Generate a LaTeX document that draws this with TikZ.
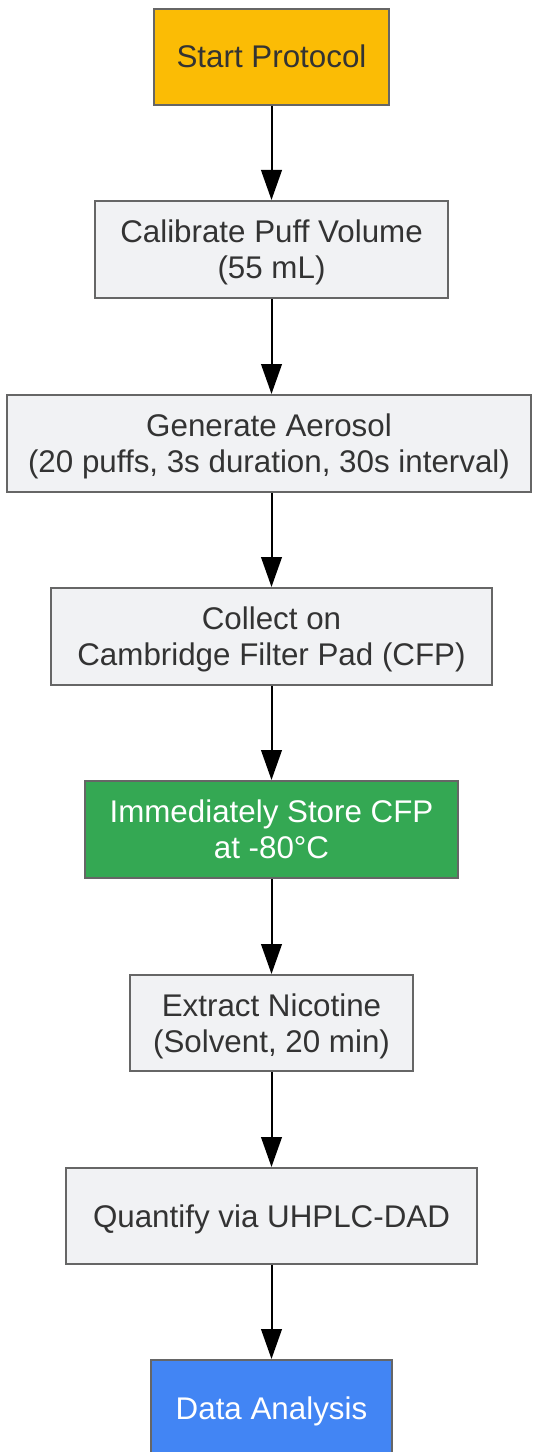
\documentclass[tikz,border=0pt]{standalone}
\usepackage{fontspec}
\setmainfont{Liberation Sans}
\usetikzlibrary{arrows.meta}
\definecolor{txt}{HTML}{333333}
\definecolor{bord}{HTML}{666666}
\definecolor{boxgray}{HTML}{F1F2F4}
\definecolor{startc}{HTML}{FBBC05}
\definecolor{greenc}{HTML}{34A853}
\definecolor{bluec}{HTML}{4285F4}
\newcommand\ls{\rule[-5.25pt]{0pt}{27pt}}
\begin{document}
\begin{tikzpicture}[x=0.75pt,y=-0.75pt,
  stepbox/.style={draw=bord, line width=1.5pt, fill=boxgray, text=txt, align=center,
    inner sep=0pt, font=\fontsize{23.5}{27}\selectfont},
  flow/.style={line width=1.5pt, -{Triangle[length=22.5pt,width=15.5pt]}}]
\useasboundingbox (0,0) rectangle (532,1452);
\node[stepbox, fill=startc, minimum width=176.25pt, minimum height=72pt] (s) at (271.5,57) {\ls Start Protocol};
\node[stepbox, minimum width=264.75pt, minimum height=72.75pt] (c) at (271.5,249.5) {\ls Calibrate Puff Volume\\\ls(55 mL)};
\node[stepbox, minimum width=393pt, minimum height=72.75pt] (g) at (269,443.5) {\ls Generate Aerosol\\\ls(20 puffs, 3s duration, 30s interval)};
\node[stepbox, minimum width=330.75pt, minimum height=72.75pt] (col) at (271.5,636.5) {\ls Collect on\\\ls Cambridge Filter Pad (CFP)};
\node[stepbox, fill=greenc, text=white, minimum width=279.75pt, minimum height=72.75pt] (st) at (271.5,829.5) {\ls Immediately Store CFP\\\ls at -80°C};
\node[stepbox, minimum width=212.25pt, minimum height=72pt] (e) at (271.5,1023) {\ls Extract Nicotine\\\ls(Solvent, 20 min)};
\node[stepbox, minimum width=308.25pt, minimum height=72pt] (q) at (271.5,1216) {\ls Quantify via UHPLC-DAD};
\node[stepbox, fill=bluec, text=white, minimum width=180.75pt, minimum height=72pt] (d) at (271.5,1408) {\ls Data Analysis};
\draw[flow] (s) -- (c);
\draw[flow] (c) -- (g.north -| c);
\draw[flow] (g.south -| c) -- (col);
\draw[flow] (col) -- (st);
\draw[flow] (st) -- (e);
\draw[flow] (e) -- (q);
\draw[flow] (q) -- (d);
\end{tikzpicture}
\end{document}
